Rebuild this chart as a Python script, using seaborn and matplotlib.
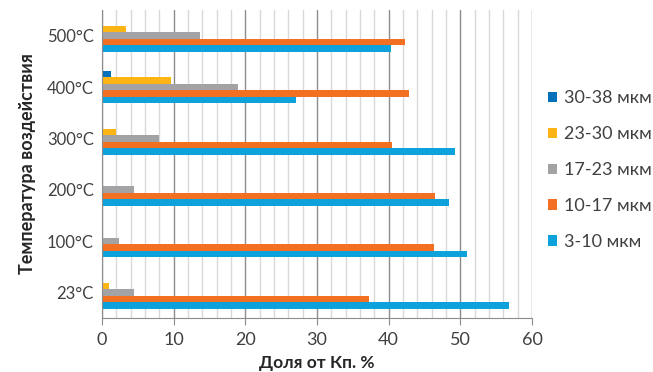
import seaborn as sns
import matplotlib.pyplot as plt
import pandas as pd
from matplotlib.ticker import MultipleLocator

# temperatures (top to bottom) and fraction shares per particle size
temps = ["500°C", "400°C", "300°C", "200°C", "100°C", "23°C"]
sizes = ["30-38 мкм", "23-30 мкм", "17-23 мкм", "10-17 мкм", "3-10 мкм"]
s30_38 = [0, 1.2, 0, 0, 0, 0]
s23_30 = [3.3, 9.6, 1.9, 0.2, 0, 1.0]
s17_23 = [13.7, 19.0, 7.9, 4.4, 2.4, 4.4]
s10_17 = [42.3, 42.9, 40.4, 46.5, 46.3, 37.3]
s3_10 = [40.3, 27.0, 49.3, 48.4, 50.9, 56.8]

colors = ["#0070bb", "#fdb515", "#a3a3a5", "#f36f21", "#0ea2dc"]

rows = []
for name, vals in zip(sizes, [s30_38, s23_30, s17_23, s10_17, s3_10]):
    for t, v in zip(temps, vals):
        rows.append({"temp": t, "size": name, "share": v})
df = pd.DataFrame(rows)

sns.set_style("white")
plt.rcParams["font.family"] = ["Lato", "DejaVu Sans"]

fig = plt.figure(figsize=(6.53, 3.72), dpi=100)
ax = fig.add_axes([102 / 653, 1 - 318 / 372, 430 / 653, 308 / 372])

sns.barplot(data=df, y="temp", x="share", hue="size", order=temps,
            hue_order=sizes, palette=colors, orient="h", width=0.63,
            errorbar=None, saturation=1, linewidth=0, ax=ax)

ax.set_xlim(0, 60)
ax.set_ylim(5.5, -0.5)
ax.xaxis.set_major_locator(MultipleLocator(10))
ax.xaxis.set_minor_locator(MultipleLocator(2))
ax.grid(axis="x", which="minor", color="#d9d9d9", lw=1)
ax.grid(axis="x", which="major", color="#8c8c8c", lw=1)
ax.set_axisbelow(True)
for s in ["top", "right"]:
    ax.spines[s].set_visible(False)
for s in ["left", "bottom"]:
    ax.spines[s].set_color("#8c8c8c")
ax.tick_params(axis="x", which="major", length=5, color="#8c8c8c",
               labelsize=13, labelcolor="#404040", pad=5, direction="out",
               bottom=True)
ax.tick_params(axis="x", which="minor", length=0)
ax.tick_params(axis="y", length=0, labelsize=12, labelcolor="#404040", pad=6)

ax.set_xlabel("Доля от Кп. %", fontsize=12.5, fontweight="bold",
              color="#262626", labelpad=5)
ax.set_ylabel("Температура воздействия", fontsize=13, fontweight="bold",
              color="#262626", labelpad=8)

ax.legend(loc="center left", bbox_to_anchor=(1.02, 0.48), frameon=False,
          fontsize=13, handlelength=0.5, handleheight=0.5, handletextpad=0.4,
          labelspacing=1.1, borderaxespad=0, labelcolor="#404040")

fig.savefig("out.png", dpi=100)
